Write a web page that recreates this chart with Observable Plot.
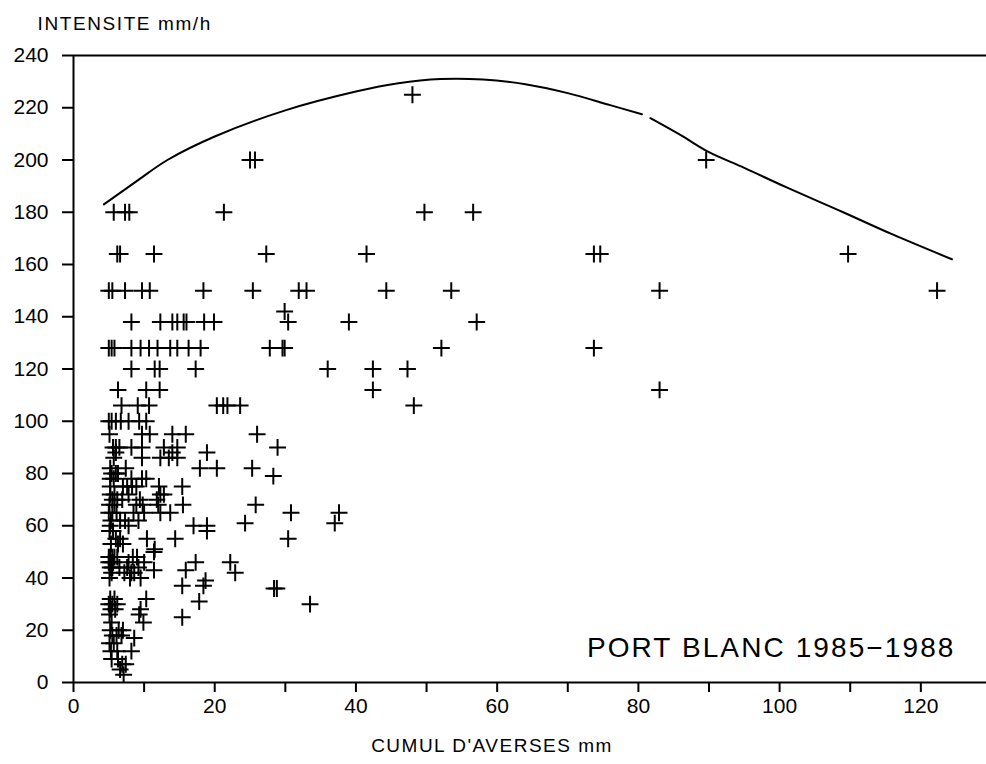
<!DOCTYPE html>
<html><head><meta charset="utf-8">
<script src="https://cdn.jsdelivr.net/npm/d3@7"></script>
<script src="https://cdn.jsdelivr.net/npm/@observablehq/plot@0.6"></script>
<style>body{margin:0;background:#fff;} svg{display:block}</style>
</head><body><div id="chart"></div>
<script>
// Intensity levels (mm/h) and the cumul values (mm) of the showers at each level
const intensityLevels = [225, 200, 180, 164, 150, 142, 138, 128, 120, 112, 106, 100, 95, 90, 88, 86, 82, 80, 79, 78, 75, 72, 70, 68, 65, 62, 61, 60, 58, 55, 53, 51, 50, 48, 46, 44, 43, 42, 40, 39, 37, 36, 32, 31, 30, 28, 26, 25, 23, 20, 18, 17, 15, 12, 9, 7, 5, 3];
const cumulByLevel = [
  [48],
  [25.0, 25.7, 89.6],
  [5.7, 7.3, 7.9, 21.3, 49.7, 56.6],
  [6.2, 6.6, 11.4, 27.3, 41.5, 73.7, 74.6, 109.7],
  [5.0, 5.5, 7.3, 9.7, 10.8, 18.4, 25.4, 31.9, 33.0, 44.3, 53.5, 83.0, 122.3],
  [29.9],
  [8.2, 12.3, 14.0, 14.7, 15.6, 16.0, 18.5, 19.9, 30.4, 39.0, 57.1],
  [5.0, 5.4, 5.8, 8.2, 9.5, 10.7, 11.9, 13.7, 14.7, 16.3, 18.0, 27.8, 29.6, 29.9, 52.1, 73.7],
  [8.2, 11.5, 12.2, 17.3, 36.0, 42.4, 47.3],
  [6.3, 10.3, 12.2, 42.4, 83.0],
  [6.8, 9.1, 10.7, 20.3, 21.2, 21.8, 23.6, 48.2],
  [5.0, 5.4, 6.0, 6.7, 7.8, 9.3, 10.3],
  [5.1, 9.7, 10.8, 14.0, 15.9, 26.0],
  [5.6, 6.0, 6.5, 8.2, 9.7, 12.8, 14.7, 28.9],
  [6.0, 14.0, 18.9],
  [5.7, 9.7, 12.3, 13.5, 14.7],
  [5.2, 7.4, 17.9, 20.3, 25.3],
  [5.4, 6.0, 6.3],
  [28.3],
  [5.2, 5.7, 8.2, 9.7, 10.3],
  [5.2, 7.0, 7.6, 8.3, 8.9, 12.1, 15.4],
  [5.2, 5.8, 7.8, 12.3, 12.8],
  [5.5, 6.2, 6.9, 9.4, 11.8],
  [5.1, 5.8, 8.9, 9.8, 12.0, 15.5, 25.8],
  [5.0, 5.5, 6.1, 8.5, 10.0, 12.3, 13.7, 30.8, 37.6],
  [5.3, 6.6, 7.3, 9.2],
  [37.0, 24.3],
  [5.2, 7.8, 17.0, 18.9],
  [5.1, 5.6, 18.9],
  [6.0, 6.6, 10.4, 14.4, 30.4],
  [5.3, 6.3, 7.0],
  [11.5],
  [11.4],
  [5.0, 5.2, 5.5, 5.8, 6.2, 8.4, 9.0],
  [5.0, 5.3, 5.6, 7.8, 10.0, 17.3, 22.2],
  [5.2, 5.5, 6.5, 7.6, 9.2],
  [11.4, 15.9],
  [5.4, 7.2, 8.2, 8.6, 22.9],
  [5.1, 8.0, 9.5],
  [18.7],
  [15.4, 18.4],
  [28.4, 28.8],
  [5.2, 5.8, 10.3],
  [17.8],
  [5.0, 5.5, 6.2, 33.5],
  [5.3, 5.9, 9.5],
  [5.1, 9.3],
  [15.4],
  [5.4, 9.9],
  [5.2, 6.4, 7.0],
  [5.5, 6.1, 6.8],
  [8.6],
  [5.1, 5.7],
  [5.3, 6.2, 8.2],
  [5.4, 6.3],
  [6.9, 7.4],
  [6.6],
  [7.1]
];

// Envelope curve; null marks the small break in the line
const curveCumul =     [4.3, 9,   13.3, 20,  30,  40,    46,    52,  58,    64,  70,    76,  80.5,  81.1, 81.7, 86,    90,  95,  101,   109, 116,   124.4];
const curveIntensite = [183, 192, 200,  209, 219, 226.2, 229.4, 231, 230.8, 229, 225.6, 221, 217.5, null, 216,  209.5, 203, 197, 189.5, 180, 171.5, 162];

const xTicks = [0, 10, 20, 30, 40, 50, 60, 70, 80, 90, 100, 110, 120];
const xTickLabels = [0, 20, 40, 60, 80, 100, 120];
const yTicks = [0, 20, 40, 60, 80, 100, 120, 140, 160, 180, 200, 220, 240];

const yTitle = "INTENSITE mm/h";
const xTitle = "CUMUL D'AVERSES mm";
const stationLabel = "PORT BLANC 1985\u22121988";

const points = intensityLevels.flatMap((lvl, i) => cumulByLevel[i].map(c => ({cumul: c, intensite: lvl})));
const curve = curveCumul.map((c, i) => ({cumul: c, intensite: curveIntensite[i]}));

const font = "'Liberation Sans', Arial, sans-serif";
const chart = Plot.plot({
  width: 986, height: 764,
  marginLeft: 73, marginRight: 0, marginTop: 55, marginBottom: 82,
  style: {fontFamily: font, background: "#fff", color: "#000", overflow: "visible"},
  x: {domain: [0, 129.3]},
  y: {domain: [0, 240]},
  marks: [
    Plot.ruleY([0, 240], {stroke: "#000", strokeWidth: 2}),
    Plot.ruleX([0], {stroke: "#000", strokeWidth: 2}),
    Plot.axisX({ticks: xTicks, tickSize: 10, tickPadding: 6, strokeWidth: 2, fontSize: 21, label: null,
      tickFormat: d => xTickLabels.includes(d) ? String(d) : ""}),
    Plot.axisY({ticks: yTicks, tickSize: 11, tickPadding: 14, strokeWidth: 2, fontSize: 21, label: null}),
    Plot.line(curve, {x: "cumul", y: "intensite", curve: "catmull-rom", stroke: "#000", strokeWidth: 2}),
    Plot.dot(points, {x: "cumul", y: "intensite", symbol: "plus", r: 5.5, stroke: "#000", strokeWidth: 2}),
    Plot.text([yTitle], {text: d => d, frameAnchor: "top-left", dx: -36, dy: -26, textAnchor: "start", lineAnchor: "bottom", fontSize: 19, fill: "#000"}),
    Plot.text([xTitle], {text: d => d, frameAnchor: "bottom", dx: -38, dy: 63, textAnchor: "middle", lineAnchor: "middle", fontSize: 19, fill: "#000"}),
    Plot.text([stationLabel], {text: d => d, frameAnchor: "bottom-right", dx: -31, dy: -34, textAnchor: "end", lineAnchor: "middle", fontSize: 28, fill: "#000"})
  ]
});
// letter spacing for the plotter-like titles
const spacing = new Map([[yTitle, "1.6px"], [xTitle, "1.5px"], [stationLabel, "2.1px"]]);
d3.select(chart).selectAll("text").each(function() {
  const s = spacing.get(this.textContent);
  if (s) this.style.letterSpacing = s;
});
document.getElementById("chart").append(chart);
</script>
</body></html>
